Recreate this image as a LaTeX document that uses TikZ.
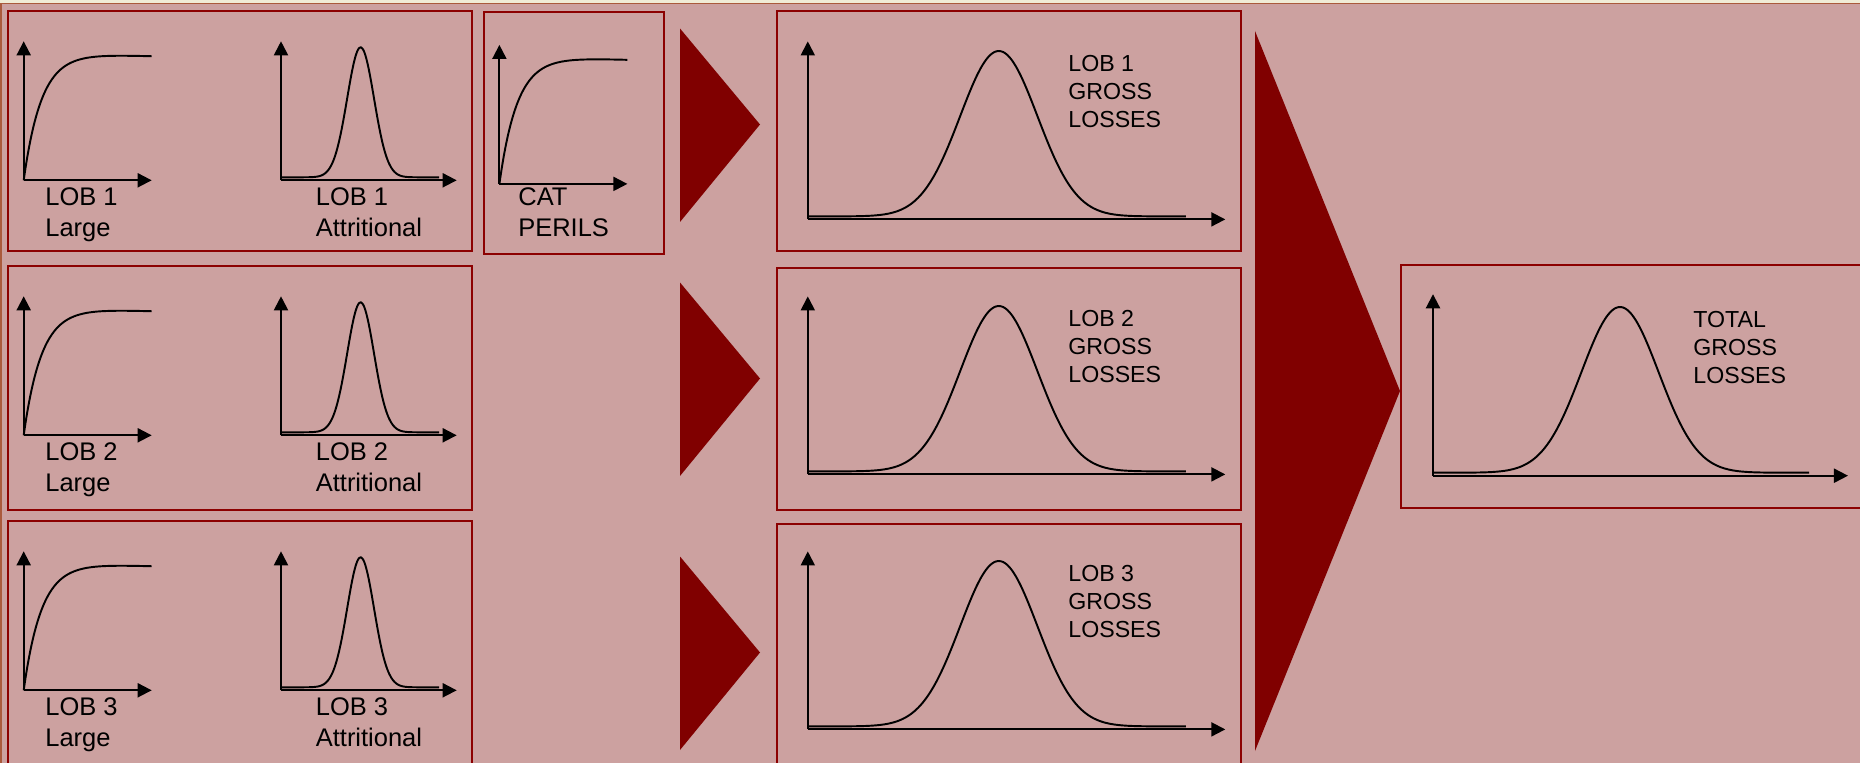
\documentclass[tikz,border=0pt]{standalone}
\usepackage{fontspec}
\setmainfont{Liberation Sans}
\usetikzlibrary{arrows.meta}

\definecolor{bgpink}{RGB}{204,161,160}
\definecolor{darkred}{RGB}{128,0,0}
\definecolor{boxred}{RGB}{140,0,0}
\definecolor{topcream}{RGB}{240,236,214}
\definecolor{topbrown}{RGB}{170,90,60}

\tikzset{
  box/.style={draw=boxred, line width=1.4pt},
  tri/.style={fill=darkred},
  axis/.style={draw=black, line width=1.1pt, -{Triangle[length=8pt,width=8pt]}},
  curve/.style={draw=black, line width=1.1pt},
  small label/.style={anchor=north west, inner sep=0pt, align=left,
    font=\fontsize{14.5}{17.6}\selectfont},
  big label/.style={anchor=north west, inner sep=0pt, align=left,
    font=\fontsize{13.2}{15.9}\selectfont},
}
% saturating curve: origin
\newcommand{\satplot}[1]{%
  \draw[axis] (#1) -- ++(0,-139);
  \draw[axis] (#1) -- ++(128,0);
  \draw[curve, shift={(#1)}] plot[domain=0:128, samples=60, smooth]
    (\x, {-128*(1-exp(-\x/17.8)) + 0.03*\x});
}
% bell curve: origin, axis height, axis length, peak x, peak height, sigma, end
\newcommand{\bellplot}[7]{%
  \draw[axis] (#1) -- ++(0,-#2);
  \draw[axis] (#1) -- ++(#3,0);
  \draw[curve, shift={(#1)}] plot[domain=0:#7, samples=90, smooth]
    (\x, {-3 - (#5-3)*exp(-((\x-#4)/#6)*((\x-#4)/#6))});
}

\begin{document}
\begin{tikzpicture}[x=0.02cm, y=-0.02cm]
  \fill[bgpink] (0,0) rectangle (1860,763);
  \useasboundingbox (0,0) rectangle (1860,763);
  \fill[topcream] (0,0) rectangle (1860,3);
  \draw[topbrown, line width=0.8pt] (0,3.5) -- (1860,3.5);
  \draw[topbrown, line width=0.8pt] (1,3.5) -- (1,763);

  % inputs per line of business
  \foreach \r/\dy/\ty/\gy/\by in {1/0/0/0/251, 2/255/254/257/510, 3/510/528/513/790} {
    \draw[box] (8,11+\dy) rectangle (472,\by);
    \satplot{23.7,180.3+\dy}
    \bellplot{281,180.3+\dy}{139}{175.7}{79.6}{133}{19}{158}
    \node[small label] (large\r) at (45,187+\dy) {LOB \r\\Large};
    \node[small label] (attr\r) at (315.5,187+\dy) {LOB \r\\Attritional};

    \fill[tri] (680,28.5+\ty) -- (760,124.5+\ty) -- (680,222+\ty) -- cycle;

    \draw[box] (777,11+\gy) rectangle (1241,\by);
    \bellplot{807.8,219.4+\dy}{178}{417.5}{191}{168.4}{54.6}{378}
    \node[big label] (gross\r) at (1068,55+\dy) {LOB \r\\GROSS\\LOSSES};
  }

  % cat perils
  \draw[box] (484,12) rectangle (664,254);
  \satplot{499.4,183.9}
  \node[small label] (cat) at (518,187) {CAT\\PERILS};

  % total
  \fill[tri] (1255,31) -- (1400,391) -- (1255,751) -- cycle;
  \draw[box] (1401,265) rectangle (1870,508);
  \bellplot{1433,475.7}{181.5}{415}{187}{168.7}{54.6}{376}
  \node[big label] (total) at (1693,311) {TOTAL\\GROSS\\LOSSES};
\end{tikzpicture}
\end{document}
